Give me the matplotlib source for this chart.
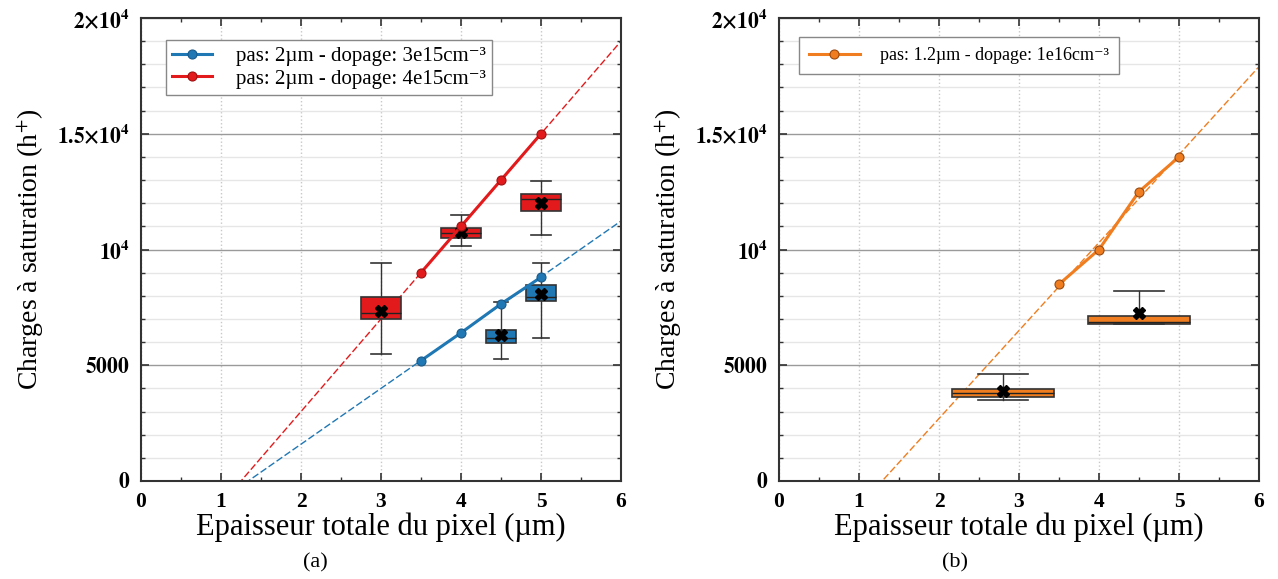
import matplotlib
matplotlib.use('Agg')
import matplotlib.pyplot as plt
import numpy as np
from matplotlib.ticker import MultipleLocator, FixedLocator, FixedFormatter

plt.rcParams['font.family'] = ['Liberation Serif', 'DejaVu Serif']
plt.rcParams['mathtext.fontset'] = 'stix'

# ---------------- data ----------------
thick = [3.5, 4.0, 4.5, 5.0]
blue_vals = [5200, 6400, 7650, 8800]
red_vals = [9000, 11000, 13000, 15000]
orange_vals = [8500, 10000, 12500, 14000]

blue_label = 'pas: 2µm - dopage: 3e15cm⁻³'
red_label = 'pas: 2µm - dopage: 4e15cm⁻³'
orange_label = 'pas: 1.2µm - dopage: 1e16cm⁻³'

# box statistics (panel a, red)
red_pos = [3.0, 4.0, 5.0]
red_whislo = [5500, 10150, 10630]
red_q1 = [6980, 10480, 11660]
red_med = [7240, 10710, 12180]
red_q3 = [7960, 10940, 12380]
red_whishi = [9430, 11490, 12960]
red_mean = [7360, 10770, 12020]

# box statistics (panel a, blue)
blue_pos = [4.5, 5.0]
blue_whislo = [5260, 6160]
blue_q1 = [5950, 7760]
blue_med = [6160, 7940]
blue_q3 = [6520, 8470]
blue_whishi = [7720, 9430]
blue_mean = [6310, 8060]

# box statistics (panel b, orange)
orange_pos = [2.8, 4.5]
orange_whislo = [3485, 6800]
orange_q1 = [3640, 6800]
orange_med = [3790, 6850]
orange_q3 = [3960, 7140]
orange_whishi = [4620, 8210]
orange_mean = [3890, 7240]

ytick_vals = [0, 5000, 10000, 15000, 20000]
ytick_labels = [r'$\mathbf{0}$', r'$\mathbf{5000}$', r'$\mathbf{10^4}$',
                r'$\mathbf{1.5{\times}10^4}$', r'$\mathbf{2{\times}10^4}$']

C_BLUE = '#1f77b4'
C_RED = '#e31a1c'
C_ORANGE = '#f07d1f'

fig = plt.figure(figsize=(12.78, 5.79), dpi=100)
axA = fig.add_axes([141/1278, 1-481/579, 480/1278, 463/579])
axB = fig.add_axes([779/1278, 1-481/579, 480/1278, 463/579])


def style_axes(ax):
    ax.set_xlim(0, 6)
    ax.set_ylim(0, 20000)
    ax.xaxis.set_major_locator(MultipleLocator(1))
    ax.xaxis.set_minor_locator(MultipleLocator(0.5))
    ax.yaxis.set_major_locator(FixedLocator(ytick_vals))
    ax.yaxis.set_major_formatter(FixedFormatter(ytick_labels))
    ax.yaxis.set_minor_locator(MultipleLocator(1000))
    ax.grid(which='minor', axis='y', color='#e6e6e6', lw=1.0)
    ax.grid(which='major', axis='y', color='#9a9a9a', lw=1.0)
    ax.grid(which='major', axis='x', color='#c8c8c8', lw=1.0, ls=':')
    ax.set_axisbelow(True)
    ax.tick_params(which='both', direction='in', top=True, right=True, color='#333333')
    ax.tick_params(which='major', length=6, width=1.2, labelsize=15.5, pad=8)
    ax.tick_params(which='minor', length=3, width=1.0)
    for lab in ax.get_xticklabels():
        lab.set_fontweight('bold')
    for s in ax.spines.values():
        s.set_linewidth(1.5)
        s.set_color('#333333')
    ax.set_xlabel('Epaisseur totale du pixel (µm)', fontsize=22, labelpad=0)
    ax.set_ylabel(r'Charges à saturation (h$^{+}$)', fontsize=20, labelpad=8)


def draw_boxes(ax, pos, wl, q1, med, q3, wh, mean, color, width, capw):
    stats = []
    for i in range(len(pos)):
        stats.append(dict(whislo=wl[i], q1=q1[i], med=med[i], q3=q3[i],
                          whishi=wh[i], mean=mean[i], fliers=[]))
    ax.bxp(stats, positions=pos, widths=width, capwidths=capw, showmeans=True,
           patch_artist=True, manage_ticks=False,
           boxprops=dict(facecolor=color, edgecolor='#333333', lw=1.2),
           medianprops=dict(color='#222222', lw=1.0),
           whiskerprops=dict(color='#333333', lw=1.0),
           capprops=dict(color='#333333', lw=1.2),
           meanprops=dict(marker='X', markerfacecolor='black', markeredgecolor='black',
                          markersize=9))


xfit = np.array([0.0, 6.0])

# ---------------- panel a ----------------
style_axes(axA)
pb = np.polyfit(thick, blue_vals, 1)
pr = np.polyfit(thick, red_vals, 1)
axA.plot(xfit, np.polyval(pb, xfit), ls=(0, (5, 2)), lw=1.0, color=C_BLUE, zorder=2)
axA.plot(xfit, np.polyval(pr, xfit), ls=(0, (5, 2)), lw=1.0, color=C_RED, zorder=2)
axA.plot(thick, blue_vals, '-o', color=C_BLUE, lw=2.2, ms=6.5, mec='#1a5a8a', mew=0.8,
         label=blue_label, zorder=3)
axA.plot(thick, red_vals, '-o', color=C_RED, lw=2.2, ms=6.5, mec='#a01010', mew=0.8,
         label=red_label, zorder=3)
draw_boxes(axA, red_pos, red_whislo, red_q1, red_med, red_q3, red_whishi, red_mean,
           C_RED, 0.5, 0.25)
draw_boxes(axA, blue_pos, blue_whislo, blue_q1, blue_med, blue_q3, blue_whishi, blue_mean,
           C_BLUE, 0.375, [0.17, 0.2])
legA = axA.legend(loc='upper left', bbox_to_anchor=(0.052, 0.9525), borderaxespad=0,
                  fontsize=15, handlelength=1.9, handletextpad=1.15, fancybox=False,
                  edgecolor='#888888', framealpha=1, labelspacing=0.15,
                  borderpad=0.3)
legA.get_frame().set_linewidth(1.0)

# ---------------- panel b ----------------
style_axes(axB)
po = np.polyfit(thick, orange_vals, 1)
axB.plot(xfit, np.polyval(po, xfit), ls=(0, (5, 2)), lw=1.0, color=C_ORANGE, zorder=2)
axB.plot(thick, orange_vals, '-o', color=C_ORANGE, lw=2.2, ms=6.5, mec='#9a4a10', mew=0.8,
         label=orange_label, zorder=3)
draw_boxes(axB, orange_pos, orange_whislo, orange_q1, orange_med, orange_q3, orange_whishi,
           orange_mean, C_ORANGE, 1.28, 0.625)
legB = axB.legend(loc='upper left', bbox_to_anchor=(0.042, 0.959), borderaxespad=0,
                  fontsize=13, handlelength=2.8, handletextpad=1.14, fancybox=False,
                  edgecolor='#888888', framealpha=1, borderpad=0.55)
legB.get_frame().set_linewidth(1.0)

fig.text(315/1278, 1-563/579, '(a)', fontsize=16, ha='center', va='center')
fig.text(955/1278, 1-563/579, '(b)', fontsize=16, ha='center', va='center')

fig.savefig('out.png', dpi=100)
